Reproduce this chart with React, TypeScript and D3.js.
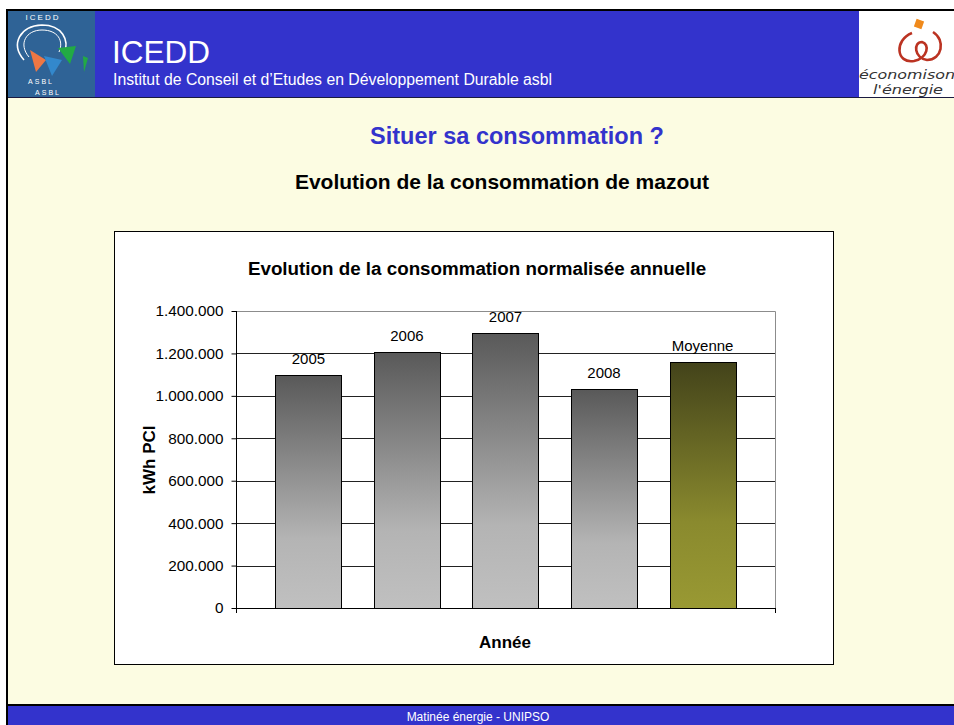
import React, { useEffect, useRef } from "react";
import * as d3 from "d3";

const categories = ["2005", "2006", "2007", "2008", "Moyenne"];
const values = [1100000, 1206000, 1296000, 1030000, 1158000];
const yTicks = [0, 200000, 400000, 600000, 800000, 1000000, 1200000, 1400000];

const W = 954;
const H = 725;
const FONT = "'Liberation Sans', Arial, sans-serif";

const fmt = (v: number) =>
  v === 0 ? "0" : d3.format(",")(v).replace(/,/g, ".");

const App: React.FC = () => {
  const svgRef = useRef<SVGSVGElement | null>(null);

  useEffect(() => {
    if (!svgRef.current) return;
    const svg = d3.select(svgRef.current);
    svg.selectAll("*").remove();

    // gradients for bars
    const defs = svg.append("defs");
    const grey = defs
      .append("linearGradient")
      .attr("id", "gGrey")
      .attr("x1", 0)
      .attr("y1", 0)
      .attr("x2", 0)
      .attr("y2", 1);
    grey.append("stop").attr("offset", "0%").attr("stop-color", "#595959");
    grey.append("stop").attr("offset", "70%").attr("stop-color", "#b4b4b4");
    grey.append("stop").attr("offset", "100%").attr("stop-color", "#c0c0c0");
    const olive = defs
      .append("linearGradient")
      .attr("id", "gOlive")
      .attr("x1", 0)
      .attr("y1", 0)
      .attr("x2", 0)
      .attr("y2", 1);
    olive.append("stop").attr("offset", "0%").attr("stop-color", "#43431a");
    olive.append("stop").attr("offset", "65%").attr("stop-color", "#8a8a2e");
    olive.append("stop").attr("offset", "100%").attr("stop-color", "#999933");

    // page
    svg.append("rect").attr("width", W).attr("height", H).attr("fill", "#ffffff");
    svg
      .append("rect")
      .attr("x", 7)
      .attr("y", 10)
      .attr("width", W)
      .attr("height", H)
      .attr("fill", "#fcfce2")
      .attr("stroke", "#000")
      .attr("stroke-width", 2);

    // header band
    svg.append("rect").attr("x", 8).attr("y", 11).attr("width", W).attr("height", 86).attr("fill", "#3333cc");
    svg.append("line").attr("x1", 8).attr("x2", W).attr("y1", 97.5).attr("y2", 97.5).attr("stroke", "#1a1a40");

    // left logo
    const lg = svg.append("g");
    lg.append("rect").attr("x", 8).attr("y", 11).attr("width", 87).attr("height", 86).attr("fill", "#2f6396");
    lg.append("text")
      .attr("x", 43)
      .attr("y", 20)
      .attr("text-anchor", "middle")
      .attr("fill", "#fff")
      .attr("font-family", FONT)
      .attr("font-size", 8)
      .attr("letter-spacing", 2)
      .text("ICEDD");
    lg.append("path")
      .attr("d", "M24,60 C10,44 20,26 42,25 C62,25 70,40 64,54")
      .attr("fill", "none")
      .attr("stroke", "#fff")
      .attr("stroke-width", 1.6);
    lg.append("path")
      .attr("d", "M29,57 C18,44 26,30 42,30 C58,30 64,41 59,52")
      .attr("fill", "none")
      .attr("stroke", "#fff")
      .attr("stroke-width", 1);
    lg.append("path").attr("d", "M30,50 L46,60 L36,72 Z").attr("fill", "#ee7744");
    lg.append("path").attr("d", "M44,56 L62,60 L52,76 Z").attr("fill", "#3388cc");
    lg.append("path").attr("d", "M58,48 L76,46 L70,64 Z").attr("fill", "#22aa44");
    lg.append("path").attr("d", "M83,56 L88,58 L84,72 Z").attr("fill", "#22aa44");
    lg.append("text")
      .attr("x", 41)
      .attr("y", 84)
      .attr("text-anchor", "middle")
      .attr("fill", "#fff")
      .attr("font-family", FONT)
      .attr("font-size", 7)
      .attr("letter-spacing", 2)
      .text("ASBL");
    lg.append("text")
      .attr("x", 48)
      .attr("y", 95)
      .attr("text-anchor", "middle")
      .attr("fill", "#fff")
      .attr("font-family", FONT)
      .attr("font-size", 7)
      .attr("letter-spacing", 2)
      .text("ASBL");

    // header texts
    svg.append("text")
      .attr("x", 112)
      .attr("y", 63)
      .attr("fill", "#fff")
      .attr("font-family", FONT)
      .attr("font-size", 31.5)
      .text("ICEDD");
    svg.append("text")
      .attr("x", 113)
      .attr("y", 85)
      .attr("fill", "#fff")
      .attr("font-family", FONT)
      .attr("font-size", 15.8)
      .text("Institut de Conseil et d\u2019Etudes en D\u00e9veloppement Durable asbl");

    // right logo
    const rg = svg.append("g");
    rg.append("rect").attr("x", 859).attr("y", 11).attr("width", 95).attr("height", 86).attr("fill", "#fff");
    rg.append("path")
      .attr("d", "M912,33 C894,40 896,64 914,61 C928,58 930,44 922,42 C913,42 914,58 927,60 C942,60 946,40 933,32")
      .attr("fill", "none")
      .attr("stroke", "#bb3322")
      .attr("stroke-width", 2.6);
    rg.append("rect")
      .attr("x", 915)
      .attr("y", 20)
      .attr("width", 8)
      .attr("height", 8)
      .attr("fill", "#f08a1c")
      .attr("transform", "rotate(20 919 24)");
    rg.append("text")
      .attr("x", 859)
      .attr("y", 79)
      .attr("fill", "#333")
      .attr("font-family", "'DejaVu Sans', sans-serif")
      .attr("font-style", "italic")
      .attr("font-size", 13)
      .attr("textLength", 96)
      .attr("lengthAdjust", "spacingAndGlyphs")
      .text("\u00e9conomison");
    rg.append("text")
      .attr("x", 873)
      .attr("y", 94)
      .attr("fill", "#333")
      .attr("font-family", "'DejaVu Sans', sans-serif")
      .attr("font-style", "italic")
      .attr("font-size", 13)
      .attr("textLength", 70)
      .attr("lengthAdjust", "spacingAndGlyphs")
      .text("l'\u00e9nergie");

    // footer
    svg.append("rect").attr("x", 8).attr("y", 705).attr("width", W).attr("height", 20).attr("fill", "#3333cc");
    svg.append("line").attr("x1", 6).attr("x2", W).attr("y1", 705).attr("y2", 705).attr("stroke", "#000").attr("stroke-width", 2);
    svg.append("text")
      .attr("x", 478)
      .attr("y", 721)
      .attr("text-anchor", "middle")
      .attr("fill", "#fff")
      .attr("font-family", FONT)
      .attr("font-size", 12)
      .text("Matin\u00e9e \u00e9nergie - UNIPSO");

    // slide titles
    svg.append("text")
      .attr("x", 517)
      .attr("y", 144)
      .attr("text-anchor", "middle")
      .attr("fill", "#3333cc")
      .attr("font-family", FONT)
      .attr("font-weight", "bold")
      .attr("font-size", 23.5)
      .text("Situer sa consommation ?");
    svg.append("text")
      .attr("x", 502)
      .attr("y", 189)
      .attr("text-anchor", "middle")
      .attr("fill", "#000")
      .attr("font-family", FONT)
      .attr("font-weight", "bold")
      .attr("font-size", 21)
      .text("Evolution de la consommation de mazout");

    // chart box
    svg.append("rect")
      .attr("x", 114.5)
      .attr("y", 231.5)
      .attr("width", 719)
      .attr("height", 433)
      .attr("fill", "#fff")
      .attr("stroke", "#000")
      .attr("stroke-width", 1);

    svg.append("text")
      .attr("x", 477)
      .attr("y", 275)
      .attr("text-anchor", "middle")
      .attr("font-family", FONT)
      .attr("font-weight", "bold")
      .attr("font-size", 18.8)
      .text("Evolution de la consommation normalis\u00e9e annuelle");

    // plot
    const left = 236;
    const right = 775;
    const top = 311;
    const bottom = 608;

    const x = d3
      .scaleBand<string>()
      .domain(categories)
      .range([left, right])
      .paddingInner(0.33)
      .paddingOuter(0.4);
    const y = d3.scaleLinear().domain([0, 1400000]).range([bottom, top]);

    const g = svg.append("g");

    // gridlines
    g.selectAll("line.grid")
      .data(yTicks.filter((t) => t > 0 && t < 1400000))
      .join("line")
      .attr("class", "grid")
      .attr("x1", left)
      .attr("x2", right)
      .attr("y1", (d) => Math.round(y(d)) + 0.5)
      .attr("y2", (d) => Math.round(y(d)) + 0.5)
      .attr("stroke", "#222")
      .attr("stroke-width", 1);

    // plot frame top/right
    g.append("path")
      .attr("d", `M${left},${top + 0.5}H${right + 0.5}V${bottom}`)
      .attr("fill", "none")
      .attr("stroke", "#8c8c8c");

    // bars
    g.selectAll("rect.bar")
      .data(categories)
      .join("rect")
      .attr("class", "bar")
      .attr("x", (d) => Math.round(x(d)!) + 0.5)
      .attr("y", (d, i) => Math.round(y(values[i])) + 0.5)
      .attr("width", Math.round(x.bandwidth()))
      .attr("height", (d, i) => Math.round(bottom - y(values[i])))
      .attr("fill", (d, i) => (i === categories.length - 1 ? "url(#gOlive)" : "url(#gGrey)"))
      .attr("stroke", "#000")
      .attr("stroke-width", 1);

    // bar labels
    g.selectAll("text.lbl")
      .data(categories)
      .join("text")
      .attr("class", "lbl")
      .attr("x", (d) => x(d)! + x.bandwidth() / 2)
      .attr("y", (d, i) => y(values[i]) - 11)
      .attr("text-anchor", "middle")
      .attr("font-family", FONT)
      .attr("font-size", 15)
      .text((d) => d);

    // y axis
    const yAxis = d3
      .axisLeft(y)
      .tickValues(yTicks)
      .tickSize(5)
      .tickFormat((d) => fmt(d as number));
    const ya = g
      .append("g")
      .attr("transform", `translate(${left + 0.5},0)`)
      .call(yAxis);
    ya.select(".domain").attr("stroke", "#000").attr("d", `M0,${top}V${bottom}`);
    ya.selectAll(".tick line").attr("stroke", "#000");
    ya.selectAll(".tick text")
      .attr("font-family", FONT)
      .attr("font-size", 15.3)
      .attr("fill", "#000")
      .attr("x", -13);

    // x axis
    g.append("line")
      .attr("x1", left)
      .attr("x2", right + 1)
      .attr("y1", bottom + 0.5)
      .attr("y2", bottom + 0.5)
      .attr("stroke", "#000");
    g.selectAll("line.xt")
      .data([left, right])
      .join("line")
      .attr("class", "xt")
      .attr("x1", (d) => d + 0.5)
      .attr("x2", (d) => d + 0.5)
      .attr("y1", bottom)
      .attr("y2", bottom + 5)
      .attr("stroke", "#000");

    // axis titles
    svg.append("text")
      .attr("transform", `translate(155,460) rotate(-90)`)
      .attr("text-anchor", "middle")
      .attr("font-family", FONT)
      .attr("font-weight", "bold")
      .attr("font-size", 17)
      .text("kWh PCI");
    svg.append("text")
      .attr("x", 505)
      .attr("y", 648)
      .attr("text-anchor", "middle")
      .attr("font-family", FONT)
      .attr("font-weight", "bold")
      .attr("font-size", 17)
      .text("Ann\u00e9e");
  }, []);

  return (
    <svg
      ref={svgRef}
      width={W}
      height={H}
      style={{ position: "absolute", left: 0, top: 0 }}
    ></svg>
  );
};

export default App;
